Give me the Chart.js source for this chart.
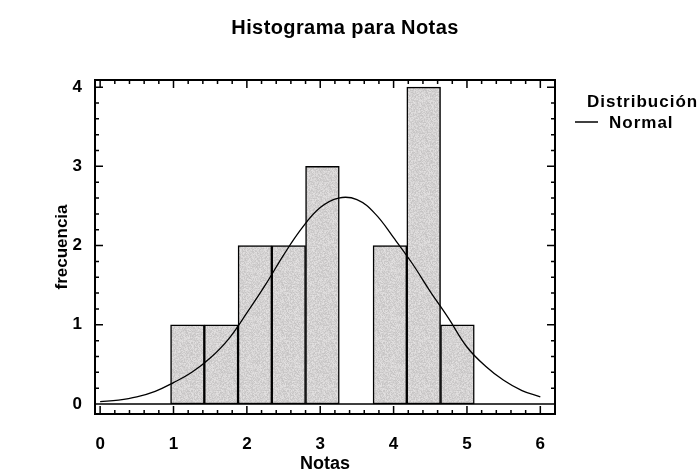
<!DOCTYPE html>
<html>
<head>
<meta charset="utf-8">
<script src="https://cdn.jsdelivr.net/npm/chart.js@4.4.1/dist/chart.umd.min.js"></script>
<style>
  html, body { margin: 0; padding: 0; background: #fff; }
  canvas { display: block; }
</style>
</head>
<body>
<canvas id="hist" width="700" height="472"></canvas>
<script>
// histogram: bin centres (bin width 0.46) and counts
var binCenters = [1.19, 1.65, 2.11, 2.57, 3.03, 3.49, 3.95, 4.41, 4.87];
var binCounts = [1, 1, 2, 2, 3, 0, 2, 4, 1];

// normal curve
var curveX = [0, 0.25, 0.5, 0.75, 1, 1.25, 1.5, 1.75, 2, 2.25, 2.5, 2.75, 3,
              3.25, 3.5, 3.75, 4, 4.25, 4.5, 4.75, 5, 5.25, 5.5, 5.75, 6];
var curveY = [0.03, 0.05, 0.09, 0.16, 0.27, 0.40, 0.58, 0.82, 1.15, 1.50, 1.88, 2.22, 2.48,
              2.60, 2.58, 2.40, 2.10, 1.78, 1.42, 1.08, 0.72, 0.48, 0.30, 0.17, 0.09];

var xTicks = [0, 1, 2, 3, 4, 5, 6];
var yTicks = [0, 1, 2, 3, 4];

var FONT = '"Liberation Sans", Arial, sans-serif';
Chart.defaults.font.family = FONT;
Chart.defaults.color = '#000';

// grainy grey fill like the printed bars
function grainPattern() {
    var c = document.createElement('canvas');
    c.width = c.height = 48;
    var g = c.getContext('2d');
    g.fillStyle = '#d4d2d2';
    g.fillRect(0, 0, 48, 48);
    var img = g.getImageData(0, 0, 48, 48);
    for (var i = 0; i < img.data.length; i += 4) {
        var h = Math.sin(i * 12.9898) * 43758.5453;
        var n = (h - Math.floor(h) - 0.5) * 30;
        img.data[i] += n; img.data[i + 1] += n; img.data[i + 2] += n;
    }
    g.putImageData(img, 0, 0);
    return g.createPattern(c, 'repeat');
}

// box, zero line and inward ticks on all four sides
var framePlugin = {
    id: 'frame',
    afterDatasetsDraw: function (chart) {
        var ctx = chart.ctx, a = chart.chartArea;
        var xs = chart.scales.x, ys = chart.scales.y;
        var k, p, len;
        ctx.save();
        ctx.strokeStyle = '#000';
        ctx.lineWidth = 1.5;
        var y0 = ys.getPixelForValue(0);
        ctx.beginPath();
        ctx.moveTo(a.left, y0);
        ctx.lineTo(a.right, y0);
        for (k = 0; k * 0.2 <= xs.max; k++) {
            p = xs.getPixelForValue(k * 0.2);
            len = k % 5 === 0 ? 8 : 4;
            ctx.moveTo(p, a.bottom); ctx.lineTo(p, a.bottom - len);
            ctx.moveTo(p, a.top); ctx.lineTo(p, a.top + len);
        }
        for (k = 0; k * 0.2 <= ys.max; k++) {
            p = ys.getPixelForValue(k * 0.2);
            len = k % 5 === 0 ? 8 : 4;
            ctx.moveTo(a.left, p); ctx.lineTo(a.left + len, p);
            ctx.moveTo(a.right, p); ctx.lineTo(a.right - len, p);
        }
        ctx.stroke();
        ctx.lineWidth = 2;
        ctx.strokeRect(a.left, a.top, a.right - a.left, a.bottom - a.top);
        ctx.restore();
    }
};

// title and the little legend on the right
var textPlugin = {
    id: 'texts',
    afterDraw: function (chart) {
        var ctx = chart.ctx;
        ctx.save();
        ctx.fillStyle = '#000';
        ctx.textBaseline = 'alphabetic';
        ctx.font = 'bold 20px ' + FONT;
        ctx.textAlign = 'center';
        ctx.letterSpacing = '0.4px';
        ctx.fillText('Histograma para Notas', 345, 34);
        ctx.textAlign = 'left';
        ctx.font = 'bold 17px ' + FONT;
        ctx.letterSpacing = '1px';
        ctx.fillText('Distribución', 587, 107);
        ctx.fillText('Normal', 609, 128);
        ctx.strokeStyle = '#000';
        ctx.lineWidth = 1.5;
        ctx.beginPath();
        ctx.moveTo(575, 122);
        ctx.lineTo(598, 122);
        ctx.stroke();
        ctx.restore();
    }
};

var grain = grainPattern();

new Chart(document.getElementById('hist'), {
    type: 'bar',
    data: {
        datasets: [{
            type: 'line',
            label: 'Distribución Normal',
            data: curveX.map(function (x, i) { return { x: x, y: curveY[i] }; }),
            borderColor: '#000',
            borderWidth: 1.3,
            pointRadius: 0,
            tension: 0.4,
            fill: false,
            order: 0
        }, {
            type: 'bar',
            label: 'frecuencia',
            data: binCenters.map(function (x, i) { return { x: x, y: binCounts[i] }; }),
            backgroundColor: grain,
            borderColor: '#000',
            borderWidth: 1.5,
            borderSkipped: false,
            barPercentage: 1,
            categoryPercentage: 1,
            order: 1
        }]
    },
    options: {
        responsive: false,
        animation: false,
        layout: { padding: { left: 0, right: 145, top: 80, bottom: 0 } },
        plugins: {
            legend: { display: false },
            tooltip: { enabled: false },
            title: { display: false }
        },
        scales: {
            x: {
                type: 'linear',
                offset: false,
                min: -0.07,
                max: 6.2,
                grid: { display: false, offset: false },
                border: { display: false },
                afterBuildTicks: function (s) { s.ticks = xTicks.map(function (v) { return { value: v }; }); },
                afterFit: function (s) { s.height = 58; },
                ticks: { padding: 12, autoSkip: false, maxRotation: 0, font: { size: 17, weight: 'bold' } },
                title: { display: true, text: 'Notas', padding: { top: 0, bottom: -1 },
                         font: { size: 18, weight: 'bold', lineHeight: 1 } }
            },
            y: {
                min: -0.126,
                max: 4.09,
                grid: { display: false },
                border: { display: false },
                afterBuildTicks: function (s) { s.ticks = yTicks.map(function (v) { return { value: v }; }); },
                afterFit: function (s) { s.width = 95; },
                ticks: { padding: 5, font: { size: 17, weight: 'bold' } },
                title: { display: true, text: 'frecuencia', padding: { top: 52, bottom: 0 },
                         font: { size: 17, weight: 'bold' } }
            }
        }
    },
    plugins: [framePlugin, textPlugin]
});
</script>
</body>
</html>
